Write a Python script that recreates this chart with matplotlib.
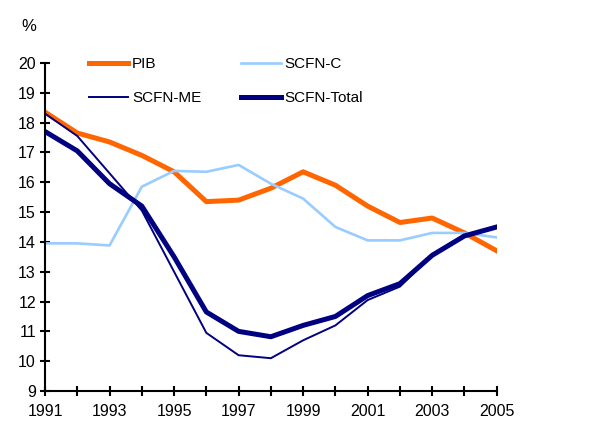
import matplotlib.pyplot as plt
import numpy as np

plt.rcParams['font.family'] = ['Liberation Sans', 'DejaVu Sans']

years = np.arange(1991, 2006)
pib = [18.35, 17.65, 17.35, 16.9, 16.35, 15.35, 15.4, 15.8, 16.35, 15.9, 15.2, 14.65, 14.8, 14.3, 13.7]
scfn_c = [13.95, 13.95, 13.88, 15.85, 16.38, 16.35, 16.58, 15.95, 15.45, 14.5, 14.05, 14.05, 14.3, 14.3, 14.15]
scfn_me = [18.3, 17.55, 16.3, 15.05, 13.0, 10.95, 10.2, 10.1, 10.7, 11.2, 12.05, 12.5, 13.55, 14.2, 14.5]
scfn_total = [17.7, 17.05, 15.95, 15.2, 13.5, 11.65, 11.0, 10.82, 11.2, 11.5, 12.2, 12.6, 13.55, 14.2, 14.5]

fig = plt.figure(figsize=(6.14, 4.28), dpi=100)
ax = fig.add_axes([0.0733, 0.0864, 0.7357, 0.7666])

l_pib, = ax.plot(years, pib, color='#FF6600', lw=3.6, label='PIB')
l_c, = ax.plot(years, scfn_c, color='#99CCFF', lw=1.9, label='SCFN-C')
l_me, = ax.plot(years, scfn_me, color='#000080', lw=1.4, label='SCFN-ME')
l_tot, = ax.plot(years, scfn_total, color='#000080', lw=3.6, label='SCFN-Total')

ax.set_xlim(1991, 2005)
ax.set_ylim(9, 20)
ax.set_yticks(np.arange(9, 21))
ax.set_xticks(years)
ax.set_xticklabels([str(y) if (y - 1991) % 2 == 0 else '' for y in years])

for s in ['top', 'right']:
    ax.spines[s].set_visible(False)
for s in ['left', 'bottom']:
    ax.spines[s].set_linewidth(1.5)
ax.tick_params(direction='inout', length=7, width=1.5, labelsize=11.5, pad=3)
ax.tick_params(axis='x', pad=6)

ax.text(-0.053, 1.098, '%', transform=ax.transAxes, fontsize=12, va='baseline')

# column-major fill: PIB / SCFN-ME in col 1, SCFN-C / SCFN-Total in col 2
ax.legend([l_pib, l_me, l_c, l_tot], ['PIB', 'SCFN-ME', 'SCFN-C', 'SCFN-Total'],
          loc='upper left', bbox_to_anchor=(0.083, 1.036), ncol=2, frameon=False,
          fontsize=11, handlelength=2.6, handletextpad=0.25, columnspacing=2.6,
          labelspacing=1.3, borderaxespad=0)

fig.savefig('out.png', dpi=100)
